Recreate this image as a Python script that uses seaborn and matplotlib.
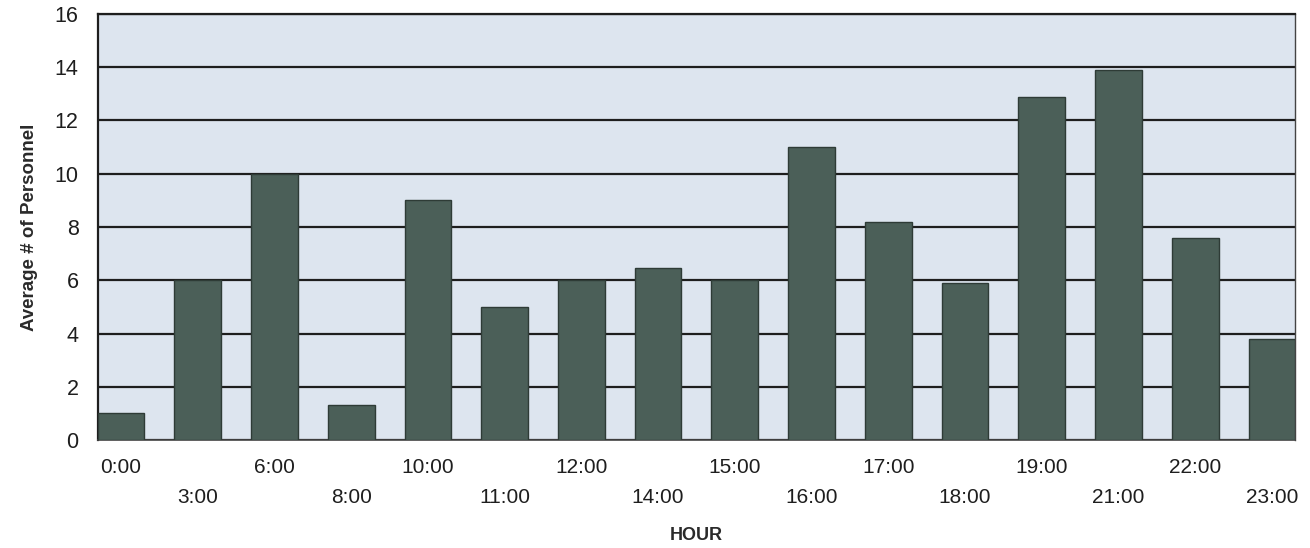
import matplotlib
matplotlib.use("Agg")
import matplotlib.pyplot as plt
import seaborn as sns
import pandas as pd

hours = ["0:00", "3:00", "6:00", "8:00", "10:00", "11:00", "12:00", "14:00",
         "15:00", "16:00", "17:00", "18:00", "19:00", "21:00", "22:00", "23:00"]
personnel = [1.0, 6.0, 10.0, 1.3, 9.0, 5.0, 6.0, 6.45, 6.0, 11.0, 8.2, 5.9, 12.9, 13.9, 7.6, 3.8]
yticks = [0, 2, 4, 6, 8, 10, 12, 14, 16]

sns.set_theme(style="white")
plt.rcParams['font.family'] = ['Liberation Sans', 'DejaVu Sans']

df = pd.DataFrame({"HOUR": hours, "Personnel": personnel})

fig = plt.figure(figsize=(13.1, 5.48), dpi=100)
ax = fig.add_axes([0.0748, 0.197, 0.9137, 0.7775])
ax.set_facecolor("#dde5ef")

sns.barplot(data=df, x="HOUR", y="Personnel", order=hours, color="#4b5f58",
            saturation=1, width=0.61, edgecolor="#2e3b36", linewidth=1.0,
            ax=ax, zorder=3)

ax.set_xlim(-0.3, 15.3)
ax.set_ylim(0, 16)
ax.set_yticks(yticks)
ax.set_yticklabels([str(v) for v in yticks], fontsize=15.5, color="#1e1e1e")
ax.yaxis.grid(True, color="#1e1e1e", linewidth=1.6, zorder=1)
ax.set_axisbelow(True)

labels = [h if i % 2 == 0 else "\n" + h for i, h in enumerate(hours)]
ax.set_xticks(range(len(hours)))
ax.set_xticklabels(labels, fontsize=15, color="#1e1e1e", linespacing=1.75)

ax.tick_params(axis="x", direction="out", length=5, width=1.2, color="#333333", pad=8)
ax.tick_params(axis="y", direction="out", length=10, width=1.4, color="#333333", pad=4)

for side in ["left", "top"]:
    ax.spines[side].set_color("#1e1e1e")
    ax.spines[side].set_linewidth(1.6)
ax.spines["right"].set_color("#444444")
ax.spines["right"].set_linewidth(1.0)
ax.spines["bottom"].set_color("#444444")
ax.spines["bottom"].set_linewidth(1.2)

ax.set_ylabel("Average # of Personnel", fontsize=13.5, fontweight="bold", color="#2a2a2a", labelpad=12)
ax.set_xlabel("HOUR", fontsize=13, fontweight="bold", color="#2a2a2a", labelpad=14)

fig.savefig("out.png", dpi=100)
